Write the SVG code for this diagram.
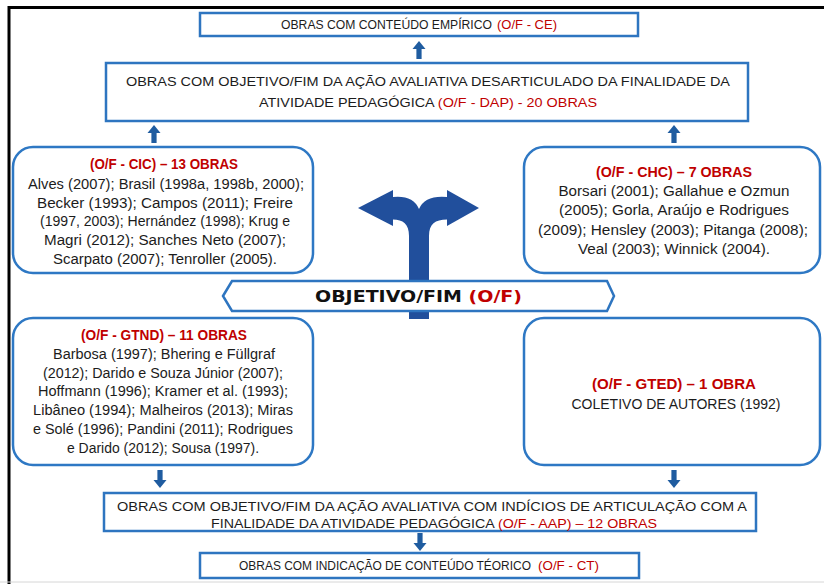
<svg xmlns="http://www.w3.org/2000/svg" xmlns:xlink="http://www.w3.org/1999/xlink" width="824" height="584" viewBox="0 0 824 584">
<style>
.box{fill:#fff;stroke:#2E75C0;stroke-width:2.5}
.rbox{fill:#fff;stroke:#2E78C4;stroke-width:2.5}
.t{font-family:"Liberation Sans",Arial,sans-serif;fill:#1c1c1c;text-anchor:middle}
.s{text-anchor:start}
.cap{font-size:13px}
.sm{font-size:11.9px}
.body{font-size:14px}
.hd{font-size:14px;font-weight:bold;fill:#C00000}
.red{fill:#C00000}
.arr{fill:#1F5CA0}
</style>
<defs>
<path id="up" d="M0,0 L6.5,8 L2.6,8 L2.6,18 L-2.6,18 L-2.6,8 L-6.5,8 Z"/>
</defs>
<rect width="824" height="584" fill="#fff"/>
<path d="M9,584 L9,7.5 L824,7.5" fill="none" stroke="#000" stroke-width="3"/>
<line x1="0" y1="582" x2="824" y2="582" stroke="#d6d6d6" stroke-width="1"/>

<g id="connectors" class="arr">
<use xlink:href="#up" transform="translate(419,41)"/>
<use xlink:href="#up" transform="translate(154,125)"/>
<use xlink:href="#up" transform="translate(674,125)"/>
<use xlink:href="#up" transform="translate(160,488) rotate(180)"/>
<use xlink:href="#up" transform="translate(674,488) rotate(180)"/>
<use xlink:href="#up" transform="translate(420,551) rotate(180)"/>
<path id="split-arrow" fill="#214F9C" d="M409,319 L409,236 C409,224 403,219.5 393,219.5 L393,226 L358,208 L393,190 L393,197 Q413,195 419,209 Q425,195 447,197 L447,190 L479,208 L447,226 L447,219.5 C435,219.5 429,224 429,236 L429,319 Z"/>
</g>

<g id="node-ce">
<rect class="box" x="200" y="13" width="438" height="23"/>
<text class="t sm s" x="281" y="29" textLength="211" lengthAdjust="spacingAndGlyphs">OBRAS COM CONTEÚDO EMPÍRICO</text>
<text class="t sm s red" x="497" y="29" textLength="60" lengthAdjust="spacingAndGlyphs">(O/F - CE)</text>
</g>

<g id="node-dap">
<rect class="box" x="106" y="63" width="642" height="58"/>
<text class="t cap" x="428" y="86" textLength="604" lengthAdjust="spacingAndGlyphs">OBRAS COM OBJETIVO/FIM DA AÇÃO AVALIATIVA DESARTICULADO DA FINALIDADE DA</text>
<text class="t cap" x="428" y="107" textLength="338" lengthAdjust="spacingAndGlyphs">ATIVIDADE PEDAGÓGICA <tspan class="red">(O/F - DAP) - 20 OBRAS</tspan></text>
</g>

<g id="node-cic">
<rect class="rbox" x="13" y="147" width="300" height="126" rx="20"/>
<text class="t hd" x="164" y="169" textLength="148" lengthAdjust="spacingAndGlyphs">(O/F - CIC) – 13 OBRAS</text>
<text class="t body" x="166" y="188.5" textLength="276" lengthAdjust="spacingAndGlyphs">Alves (2007); Brasil (1998a, 1998b, 2000);</text>
<text class="t body" x="165" y="207.5" textLength="256" lengthAdjust="spacingAndGlyphs">Becker (1993); Campos (2011); Freire</text>
<text class="t body" x="165" y="226" textLength="250" lengthAdjust="spacingAndGlyphs">(1997, 2003); Hernández (1998); Krug e</text>
<text class="t body" x="165" y="245" textLength="242" lengthAdjust="spacingAndGlyphs">Magri (2012); Sanches Neto (2007);</text>
<text class="t body" x="165" y="263.5" textLength="224" lengthAdjust="spacingAndGlyphs">Scarpato (2007); Tenroller (2005).</text>
</g>

<g id="node-chc">
<rect class="rbox" x="524" y="147" width="296" height="126" rx="20"/>
<text class="t hd" x="674" y="176.5" textLength="156" lengthAdjust="spacingAndGlyphs">(O/F - CHC) – 7 OBRAS</text>
<text class="t body" x="674" y="195.5" textLength="231" lengthAdjust="spacingAndGlyphs">Borsari (2001); Gallahue e Ozmun</text>
<text class="t body" x="674" y="215" textLength="230" lengthAdjust="spacingAndGlyphs">(2005); Gorla, Araújo e Rodrigues</text>
<text class="t body" x="673" y="234.5" textLength="270" lengthAdjust="spacingAndGlyphs">(2009); Hensley (2003); Pitanga (2008);</text>
<text class="t body" x="674" y="253.5" textLength="192" lengthAdjust="spacingAndGlyphs">Veal (2003); Winnick (2004).</text>
</g>

<g id="node-of">
<polygon class="box" points="223,296 232,281 607,281 614,296 607,311 232,311"/>
<text x="418.5" y="302" text-anchor="middle" font-family="'DejaVu Sans',sans-serif" font-weight="bold" font-size="16.5" fill="#111" textLength="207" lengthAdjust="spacingAndGlyphs">OBJETIVO/FIM <tspan fill="#C00000">(O/F)</tspan></text>
</g>

<g id="node-gtnd">
<rect class="rbox" x="13" y="318" width="300" height="147" rx="20"/>
<text class="t hd" x="164" y="340" textLength="166" lengthAdjust="spacingAndGlyphs">(O/F - GTND) – 11 OBRAS</text>
<text class="t body" x="164" y="358.5" textLength="222" lengthAdjust="spacingAndGlyphs">Barbosa (1997); Bhering e Füllgraf</text>
<text class="t body" x="163" y="377.5" textLength="240" lengthAdjust="spacingAndGlyphs">(2012); Darido e Souza Júnior (2007);</text>
<text class="t body" x="163" y="396" textLength="250" lengthAdjust="spacingAndGlyphs">Hoffmann (1996); Kramer et al. (1993);</text>
<text class="t body" x="163" y="415" textLength="260" lengthAdjust="spacingAndGlyphs">Libâneo (1994); Malheiros (2013); Miras</text>
<text class="t body" x="163" y="434" textLength="260" lengthAdjust="spacingAndGlyphs">e Solé (1996); Pandini (2011); Rodrigues</text>
<text class="t body" x="163" y="452.5" textLength="192" lengthAdjust="spacingAndGlyphs">e Darido (2012); Sousa (1997).</text>
</g>

<g id="node-gted">
<rect class="rbox" x="524" y="318" width="296" height="147" rx="20"/>
<text class="t hd" x="674" y="388.5" textLength="164" lengthAdjust="spacingAndGlyphs">(O/F - GTED) – 1 OBRA</text>
<text class="t body" x="676" y="408.5" textLength="209" lengthAdjust="spacingAndGlyphs">COLETIVO DE AUTORES (1992)</text>
</g>

<g id="node-aap">
<rect class="box" x="104" y="493" width="652" height="38"/>
<text class="t cap" x="432" y="510.5" textLength="630" lengthAdjust="spacingAndGlyphs">OBRAS COM OBJETIVO/FIM DA AÇÃO AVALIATIVA COM INDÍCIOS DE ARTICULAÇÃO COM A</text>
<text class="t cap" x="434" y="528" textLength="446" lengthAdjust="spacingAndGlyphs">FINALIDADE DA ATIVIDADE PEDAGÓGICA <tspan class="red">(O/F - AAP) – 12 OBRAS</tspan></text>
</g>

<g id="node-ct">
<rect class="box" x="200" y="553" width="439" height="25"/>
<text class="t sm s" x="239" y="570" textLength="292" lengthAdjust="spacingAndGlyphs">OBRAS COM INDICAÇÃO DE CONTEÚDO TÉORICO</text>
<text class="t sm s red" x="538" y="570" textLength="61" lengthAdjust="spacingAndGlyphs">(O/F - CT)</text>
</g>
</svg>
